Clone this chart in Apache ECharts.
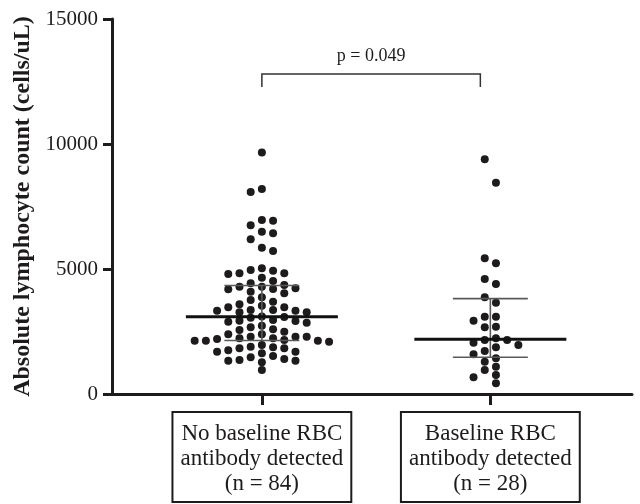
<!DOCTYPE html>
<html>
<head>
<meta charset="utf-8">
<script src="https://cdn.jsdelivr.net/npm/echarts@6/dist/echarts.min.js"></script>
<style>
  html, body { margin: 0; padding: 0; background: #fff; }
  #chart { width: 640px; height: 504px; }
</style>
</head>
<body>
<div id="chart"></div>
<script>
// group labels (x axis)
const categories = [
  'No baseline RBC\nantibody detected\n(n = 84)',
  'Baseline RBC\nantibody detected\n(n = 28)'
]
// absolute lymphocyte count (cells/uL)
const noAntibody = [
  9660, 8200, 8080, 6960, 6930, 6750, 6490, 6430, 6190, 5850, 5720,
  5030, 4960, 4930, 4830, 4830, 4800, 4650,
  4520, 4430, 4360, 4290, 4290, 4230, 4200, 4190,
  4090, 4030, 3870, 3760, 3690, 3590, 3530, 3470, 3470,
  3360, 3360, 3330, 3330, 3270, 3270,
  3100, 3080, 3050,
  2960, 2930, 2920, 2890, 2850, 2730, 2670, 2590, 2560, 2490, 2390, 2390,
  2290, 2290, 2290, 2230, 2230, 2200, 2160, 2130, 2130, 2130, 2090,
  1960, 1890, 1870, 1830, 1830, 1750, 1690, 1690, 1630, 1520, 1470, 1400,
  1360, 1330, 1330, 1270, 960
]
const withAntibody = [
  9390, 8450, 5430, 5230, 4600, 4400, 3870, 3650, 3090, 3090, 2930, 2690,
  2670, 2230, 2160, 2160, 2050, 1960, 1870, 1720, 1590, 1430, 1290, 1090,
  960, 760, 670, 430
]
const yTicks = [0, 5000, 10000, 15000]
const pText = 'p = 0.049'

const serif = '"Liberation Serif", "Times New Roman", serif'
const ink = '#1e1b1c'

// plot geometry (px) used to turn the column step into axis units
const gridLeft = 112, gridRight = 8, gridTop = 19, gridBottom = 110
const xMin = 0.344, xMax = 2.62
const pxX = (640 - gridLeft - gridRight) / (xMax - xMin)
const pxY = (504 - gridTop - gridBottom) / 15000
const colStep = 11.2 / pxX   // one dot column
const minGap = 7.6 / pxY     // two dots in one column may not be closer than this

// Prism-like dot layout: each dot goes to the free column closest to the centre
function swarm(values, center, half) {
  const placed = []
  const sorted = values.slice().sort((a, b) => b - a)
  let left = 0, right = 0
  const free = (c, v) => !placed.some(p => p.c === c && Math.abs(p.v - v) < minGap)
  return sorted.map(v => {
    let col = null
    for (let k = 0; col === null && k < 12; k++) {
      const c = k + half
      if (c === 0) {
        if (free(0, v)) col = 0
        continue
      }
      const okL = free(-c, v), okR = free(c, v)
      if (okL && okR) col = left <= right ? -c : c
      else if (okL) col = -c
      else if (okR) col = c
    }
    if (col < 0) left++
    if (col > 0) right++
    placed.push({ c: col, v: v })
    return [center + col * colStep, v]
  })
}

// median and interquartile range, (n+1)p rule
function quantile(sorted, p) {
  const pos = (sorted.length + 1) * p - 1
  const lo = Math.floor(pos)
  const f = pos - lo
  return sorted[lo] + f * (sorted[lo + 1] - sorted[lo])
}
function stats(values, g) {
  const s = values.slice().sort((a, b) => a - b)
  return [g, quantile(s, 0.25), quantile(s, 0.5), quantile(s, 0.75)]
}

const chart = echarts.init(document.getElementById('chart'))
chart.setOption({
  animation: false,
  backgroundColor: '#fff',
  grid: { left: gridLeft, right: gridRight, top: gridTop, bottom: gridBottom },
  xAxis: {
    type: 'value',
    min: xMin,
    max: xMax,
    splitLine: { show: false },
    axisLine: { lineStyle: { color: ink, width: 3 } },
    axisTick: { customValues: [1, 2], length: 11, lineStyle: { color: ink, width: 3 } },
    axisLabel: {
      customValues: [1, 2],
      formatter: (v) => categories[Math.round(v) - 1],
      margin: 18,
      color: ink,
      fontFamily: serif,
      fontSize: 23,
      lineHeight: 25,
      align: 'center',
      borderColor: ink,
      borderWidth: 2,
      padding: [9, 8, 6, 8]
    }
  },
  yAxis: {
    type: 'value',
    min: 0,
    max: 15000,
    interval: 5000,
    name: 'Absolute lymphocyte count (cells/uL)',
    nameLocation: 'middle',
    nameGap: 77,
    nameTextStyle: { color: ink, fontFamily: serif, fontSize: 24, fontWeight: 'bold' },
    splitLine: { show: false },
    axisLine: { show: true, lineStyle: { color: ink, width: 3 } },
    axisTick: { show: true, length: 9, lineStyle: { color: ink, width: 3 } },
    axisLabel: {
      formatter: (v) => yTicks.indexOf(v) >= 0 ? String(v) : '',
      margin: 14,
      color: ink,
      fontFamily: serif,
      fontSize: 21
    }
  },
  series: [
    {
      type: 'scatter',
      data: swarm(noAntibody, 1, 0),
      symbolSize: 8,
      itemStyle: { color: ink, opacity: 1 }
    },
    {
      type: 'scatter',
      data: swarm(withAntibody, 2, 0.5),
      symbolSize: 8,
      itemStyle: { color: ink, opacity: 1 }
    },
    {
      // median line with interquartile range
      type: 'custom',
      silent: true,
      z: 5,
      data: [stats(noAntibody, 1), stats(withAntibody, 2)],
      renderItem: (params, api) => {
        const g = api.value(0)
        const q1 = api.coord([g, api.value(1)])
        const md = api.coord([g, api.value(2)])
        const q3 = api.coord([g, api.value(3)])
        const x = md[0]
        const thin = { stroke: '#5a5a5a', lineWidth: 1.6 }
        return {
          type: 'group',
          children: [
            { type: 'line', shape: { x1: x, y1: q1[1], x2: x, y2: q3[1] }, style: thin },
            { type: 'line', shape: { x1: x - 37.5, y1: q1[1], x2: x + 37.5, y2: q1[1] }, style: thin },
            { type: 'line', shape: { x1: x - 37.5, y1: q3[1], x2: x + 37.5, y2: q3[1] }, style: thin },
            { type: 'line', shape: { x1: x - 76, y1: md[1], x2: x + 76, y2: md[1] }, style: { stroke: '#111', lineWidth: 3 } }
          ]
        }
      }
    },
    {
      // significance bracket
      type: 'custom',
      silent: true,
      z: 5,
      data: [[1, 2, 12800]],
      renderItem: (params, api) => {
        const a = api.coord([api.value(0), api.value(2)])
        const b = api.coord([api.value(1), api.value(2)])
        const x1 = a[0], x2 = b[0] - 10, y = a[1]
        return {
          type: 'group',
          children: [
            {
              type: 'polyline',
              shape: { points: [[x1, y + 13], [x1, y], [x2, y], [x2, y + 13]] },
              style: { stroke: '#333', lineWidth: 1.5, fill: null }
            },
            {
              type: 'text',
              style: {
                text: pText, x: (x1 + x2) / 2, y: y - 9,
                align: 'center', verticalAlign: 'bottom',
                fill: ink, font: '18px ' + serif
              }
            }
          ]
        }
      }
    }
  ]
})
window.addEventListener('resize', () => {
  chart.resize()
})
</script>
</body>
</html>
